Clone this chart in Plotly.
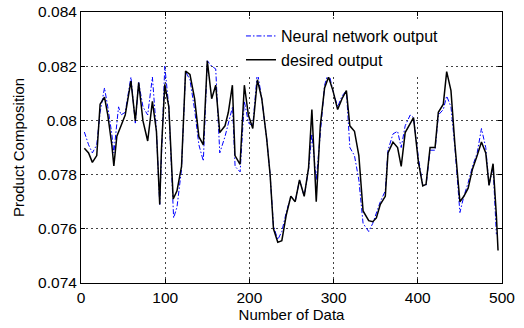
import plotly.graph_objects as go

x_desired = [4, 9, 13.5, 18.7, 22.7, 27.9, 31.8, 36.6, 39, 42.6, 46.6, 52.5, 59.3, 64.5, 68.5, 73.6, 79.2,
             84.8, 89.6, 93.5, 95.5, 99.5, 104.3, 109.5, 114, 119.4, 124.2, 129.4, 134.9, 140, 145.3,
             150, 155.2, 160, 164.8, 171, 175, 179.8, 182.9, 188.9, 194, 198.8, 204, 209.5, 214.7,
             220.6, 224.6, 228.6, 233.7, 238.5, 243.7, 249.2, 254.4, 259.5, 265.1, 270.3, 274.2,
             279.4, 284.2, 289.3, 294, 299.2, 304.8, 310, 315.2, 319.3, 324.8, 330, 335, 341.7,
             346.5, 350.8, 355.5, 361.4, 364.6, 370.5, 376, 380.3, 385, 391, 394.9, 400.8, 405.9,
             409.8, 414.6, 420.5, 424.4, 430.3, 434.3, 439.4, 444.1, 450, 454.7, 459.8, 464.9,
             470.5, 475.6, 480.7, 484.6, 489.4, 491.3, 493.3, 495.3]
y_desired = [0.07897, 0.0788, 0.07845, 0.0787, 0.0806, 0.08086, 0.0802, 0.0791, 0.07832, 0.07942,
             0.07973, 0.0802, 0.08145, 0.07998, 0.0814, 0.07998, 0.07924, 0.0807, 0.0796, 0.0769,
             0.0789, 0.08133, 0.0805, 0.0771, 0.0774, 0.0783, 0.08182, 0.0817, 0.0808, 0.0794,
             0.0791, 0.0822, 0.0808, 0.0813, 0.07955, 0.0798, 0.0803, 0.0813, 0.0787, 0.07838,
             0.0813, 0.0802, 0.0797, 0.0815, 0.0808, 0.0793, 0.0780, 0.0760, 0.0755, 0.07556,
             0.0765, 0.0772, 0.0770, 0.0778, 0.0772, 0.07826, 0.0804, 0.0770, 0.0798, 0.0812,
             0.0816, 0.0811, 0.0804, 0.0808, 0.0811, 0.0798, 0.0796, 0.0787, 0.07666, 0.0763,
             0.07626, 0.0764, 0.0769, 0.0772, 0.0788, 0.0792, 0.0790, 0.0783, 0.07955, 0.0799,
             0.0801, 0.07844, 0.07758, 0.07764, 0.0790, 0.0790, 0.0803, 0.0806, 0.0818, 0.0811,
             0.0791, 0.0770, 0.0772, 0.0775, 0.0782, 0.0787, 0.0792, 0.0788, 0.0776, 0.0784,
             0.0776, 0.0765, 0.0752]

x_nn = [4, 9, 13.5, 18.7, 22.7, 27.9, 31.8, 36.6, 39, 42.6, 44.6, 47.4, 52.5, 59.3, 64.5, 68.5, 73.6,
        79.2, 84.8, 89.6, 93.5, 99.5, 104.3, 110, 114, 119.4, 124.2, 129.4, 134.9, 140, 145.3,
        150, 155.2, 160, 164.8, 171, 175, 180, 183, 189, 194, 199, 204, 209.5, 214.7, 220.6,
        224.6, 228.6, 233.7, 238.5, 243.7, 249.2, 254.4, 259.5, 265.1, 270.3, 274.2, 279.4,
        284.2, 289.3, 294, 299.2, 304.8, 310, 315.2, 319.3, 324.8, 330, 335, 341.7, 346.5,
        350.8, 355.5, 361.4, 364.6, 370.5, 376, 380.3, 385, 391, 394.9, 400.8, 405.9, 409.8,
        414.6, 420.5, 424.4, 430.3, 434.3, 439.4, 444.1, 450, 454.7, 459.8, 464.9, 470.5,
        475.6, 480.7, 484.6, 489.4, 491.3, 493.3]
y_nn = [0.07957, 0.0791, 0.0788, 0.0791, 0.0803, 0.0812, 0.0805, 0.0795, 0.0788, 0.0798, 0.0805,
        0.0802, 0.0803, 0.0816, 0.0799, 0.0814, 0.0805, 0.0802, 0.0816, 0.0796, 0.0769, 0.0820,
        0.0805, 0.0764, 0.0768, 0.0782, 0.0818, 0.0815, 0.0804, 0.0791, 0.0785, 0.0822, 0.0820,
        0.0819, 0.0788, 0.0794, 0.0799, 0.0805, 0.0783, 0.0781, 0.0807, 0.0799, 0.0798, 0.0818,
        0.0808, 0.0793, 0.0780, 0.0761, 0.0756, 0.0759, 0.0766, 0.0772, 0.0770, 0.0778, 0.0772,
        0.0782, 0.0795, 0.0778, 0.0795, 0.0813, 0.0818, 0.0811, 0.0805, 0.0809, 0.0811, 0.0790,
        0.0787, 0.0778, 0.0762, 0.0759, 0.0762, 0.0766, 0.0770, 0.0774, 0.0789, 0.0795, 0.0796,
        0.0790, 0.0798, 0.0802, 0.0801, 0.0786, 0.0776, 0.0776, 0.0789, 0.0789, 0.0802, 0.0804,
        0.0809, 0.0805, 0.0790, 0.0766, 0.0772, 0.0777, 0.0783, 0.0788, 0.0797, 0.0790, 0.0776,
        0.0783, 0.0771, 0.0758]

x_ticks = [0, 100, 200, 300, 400, 500]
y_ticks = [0.074, 0.076, 0.078, 0.080, 0.082, 0.084]
y_tick_labels = ["0.074", "0.076", "0.078", "0.08", "0.082", "0.084"]

FONT = "Liberation Sans, Arial"

fig = go.Figure()
fig.add_trace(go.Scatter(x=x_nn, y=y_nn, mode="lines", name="Neural network output",
                         line=dict(color="#0000ff", width=1, dash="5px,2px,1.5px,2px")))
fig.add_trace(go.Scatter(x=x_desired, y=y_desired, mode="lines", name="desired output",
                         line=dict(color="black", width=1.5)))

axis_common = dict(showline=True, linecolor="black", linewidth=1, mirror="allticks",
                   ticks="inside", ticklen=4, tickcolor="black", automargin=False,
                   showgrid=True, gridcolor="#444444", gridwidth=1, griddash="2px,3px",
                   zeroline=False, tickfont=dict(family=FONT, size=15.5, color="black"))

fig.update_xaxes(range=[0, 500], tickvals=x_ticks,
                 title=dict(text="Number of Data", font=dict(family=FONT, size=15, color="black"),
                            standoff=4),
                 **axis_common)
fig.update_yaxes(range=[0.074, 0.084], tickvals=y_ticks, ticktext=y_tick_labels,
                 title=dict(text="Product Composition", font=dict(family=FONT, size=15, color="black"),
                            standoff=9),
                 **axis_common)

fig.update_layout(
    width=524, height=328,
    margin=dict(l=81, r=22, t=12, b=45, autoexpand=False),
    plot_bgcolor="white", paper_bgcolor="white",
    showlegend=True,
    legend=dict(x=0.38, y=0.974, xanchor="left", yanchor="top", bgcolor="white",
                borderwidth=0, font=dict(family=FONT, size=16, color="black"),
                itemwidth=30),
)

fig.write_html("out.html")
